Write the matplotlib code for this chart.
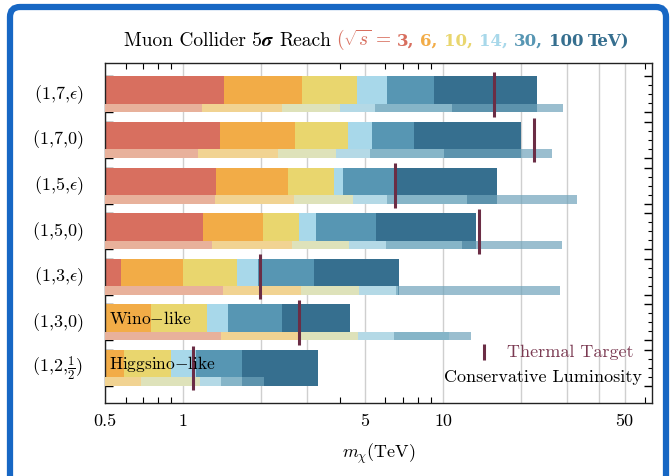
import matplotlib
matplotlib.use("Agg")
import matplotlib.pyplot as plt
import matplotlib.transforms as mtransforms
from matplotlib.patches import PathPatch
from matplotlib.path import Path
import numpy as np

plt.rcParams['font.family'] = 'serif'
plt.rcParams['font.serif'] = ['cmr10', 'DejaVu Serif']
plt.rcParams['mathtext.fontset'] = 'cm'
plt.rcParams['axes.formatter.use_mathtext'] = True

# rows, top to bottom
rows = [r'$(1{,}7{,}\epsilon)$', r'$(1{,}7{,}0)$', r'$(1{,}5{,}\epsilon)$', r'$(1{,}5{,}0)$',
        r'$(1{,}3{,}\epsilon)$', r'$(1{,}3{,}0)$', r'$(1{,}2{,}\frac{1}{2})$']
energies = [3, 6, 10, 14, 30, 100]

# 5 sigma reach in TeV, per row, per collider energy
reach = [
    [1.43, 2.86, 4.66, 6.11, 9.26, 22.9],
    [1.39, 2.70, 4.32, 5.32, 7.73, 19.95],
    [1.34, 2.52, 3.79, 4.11, 6.60, 16.1],
    [1.19, 2.02, 2.78, 3.25, 5.52, 13.4],
    [0.577, 1.00, 1.61, 1.94, 3.18, 6.77],
    [0.50, 0.75, 1.24, 1.49, 2.40, 4.39],
    [0.50, 0.59, 0.90, 1.12, 1.68, 3.31],
]
# conservative luminosity reach
reach_cons = [
    [1.18, 2.40, 4.02, 5.48, 10.8, 29.0],
    [1.135, 2.31, 3.88, 5.24, 10.1, 26.2],
    [1.33, 2.67, 4.52, 6.11, 12.4, 32.9],
    [1.29, 2.63, 4.36, 6.02, 11.8, 28.8],
    [1.42, 2.84, 4.75, 6.60, 6.70, 28.2],
    [1.40, 2.82, 4.72, 6.50, 10.5, 12.8],
    [0.50, 0.69, 1.16, 1.40, 1.68, 2.04],
]
thermal = [15.7, 22.3, 6.54, 13.8, 1.98, 2.78, 1.09]

main_colors = ['#D86F5F', '#F2AC47', '#E9D66E', '#A8D8EA', '#5796B3', '#366F8F']
cons_colors = ['#E8B19B', '#F1D392', '#DEE2BA', '#B4D9E6', '#86B5C8', '#6FA3BB']
thermal_color = '#6B2D45'

fig = plt.figure(figsize=(6.72, 4.76), dpi=100)
ax = fig.add_axes([105 / 672, 1 - 403 / 476, 547 / 672, 340 / 476])
ax.set_xscale('log')
xmin = 0.5

grp = 0.79      # full height of a row group
lite = 0.19     # height of the conservative strip
for i in range(len(rows)):
    for k in range(5, -1, -1):
        ax.barh(i, reach[i][k] - xmin, left=xmin, height=grp, color=main_colors[k],
                linewidth=0, zorder=2 + (5 - k) * 0.01)
    yc = i + grp / 2 - lite / 2
    for k in range(5, -1, -1):
        alpha = 0.7 if k == 5 else 1.0
        ax.barh(yc, reach_cons[i][k] - xmin, left=xmin, height=lite, color=cons_colors[k],
                alpha=alpha, linewidth=0, zorder=3 + (5 - k) * 0.01)
    ax.vlines(thermal[i], i - 0.49, i + 0.49, color=thermal_color, lw=2.2, zorder=5)

ax.text(0.52, 5 - 0.08, r'Wino$-$like', fontsize=12.5, va='center', ha='left', zorder=6)
ax.text(0.52, 6 - 0.08, r'Higgsino$-$like', fontsize=12.5, va='center', ha='left', zorder=6)

ax.set_xlim(xmin, 63.7)
ax.set_ylim(len(rows) - 1 + 0.768, -0.6875)

major = [0.5, 1, 2, 3, 5, 10, 20, 30, 40, 50]
ax.set_xticks(major)
ax.set_xticklabels(['0.5', '1', '', '', '5', '10', '', '', '', '50'], fontsize=13)
minor = [0.6, 0.7, 0.8, 0.9, 4, 6, 7, 8, 9, 60]
ax.set_xticks(minor, minor=True)
ax.set_xticklabels([], minor=True)
ax.grid(True, axis='x', which='major', color='#CFCFCF', lw=1.0, zorder=0)
ax.set_axisbelow(True)
ax.tick_params(axis='x', which='both', direction='in', top=True, bottom=True, pad=8)
ax.tick_params(axis='x', which='major', length=0)
ax.tick_params(axis='x', which='minor', length=4, width=0.8)

edges = []
inner = []
for i in range(len(rows)):
    edges += [i - grp / 2, i + grp / 2]
    inner += list(np.linspace(i - grp / 2, i + grp / 2, 5)[1:-1])
ax.set_yticks(edges)
ax.set_yticklabels([])
ax.set_yticks(inner, minor=True)
ax.tick_params(axis='y', which='both', direction='in', left=True, right=True)
ax.tick_params(axis='y', which='major', length=6, width=1.0)
ax.tick_params(axis='y', which='minor', length=3, width=0.8)

trans = mtransforms.blended_transform_factory(ax.transAxes, ax.transData)
for i, lab in enumerate(rows):
    ax.text(-0.04, i, lab, transform=trans, ha='right', va='center', fontsize=13)

for s in ax.spines.values():
    s.set_color('#222222')
    s.set_linewidth(1.0)

ax.set_xlabel(r'$m_\chi$(TeV)', fontsize=13, labelpad=9)

# legend-like annotations
ax.plot([0.693], [0.15], marker='|', ms=11, mew=2.2, color=thermal_color,
        transform=ax.transAxes, zorder=6)
ax.text(0.735, 0.15, 'Thermal Target', color='#7B3A52', fontsize=13,
        transform=ax.transAxes, va='center', ha='left')
ax.text(0.982, 0.0765, 'Conservative Luminosity', color='black', fontsize=13,
        transform=ax.transAxes, va='center', ha='right')

# multi-coloured title; bold numbers drawn with a bold serif face
bold = dict(family='DejaVu Serif', weight='bold', size=12)
plain = dict(size=14)
pieces = [
    (r'Muon Collider', 'black', plain, 5),
    (r'$\mathbf{5}\boldsymbol{\sigma}$', 'black', dict(size=14.5), 5),
    (r'Reach', 'black', plain, 5),
    (r'$(\sqrt{s}\,=$', main_colors[0], plain, 5),
    ('3,', main_colors[0], bold, 6),
    ('6,', main_colors[1], bold, 6),
    ('10,', main_colors[2], bold, 6),
    ('14,', main_colors[3], bold, 6),
    ('30,', main_colors[4], bold, 6),
    ('100', main_colors[5], bold, 5),
    ('TeV)', main_colors[5], bold, 0),
]
fig.canvas.draw()
renderer = fig.canvas.get_renderer()
texts = []
widths = []
for s, c, fd, g in pieces:
    t = fig.text(0, 0, s, color=c, va='baseline', ha='left', **fd)
    texts.append(t)
    widths.append(t.get_window_extent(renderer).width)
total = sum(widths) + sum(p[3] for p in pieces)
x0 = 377 - total / 2
for t, w, p in zip(texts, widths, pieces):
    t.set_position((x0 / 672, 1 - 46 / 476))
    x0 += w + p[3]

# outer blue frame: left, top and right edges only, rounded top corners
W, H = 672.0, 476.0
xl, xr, yt, r = 10.0, 666.0, 7.0, 10.0
pts = [(xl, H), (xl, yt + r), (xl, yt), (xl + r, yt), (xr - r, yt), (xr, yt), (xr, yt + r), (xr, H)]
codes = [Path.MOVETO, Path.LINETO, Path.CURVE3, Path.CURVE3, Path.LINETO,
         Path.CURVE3, Path.CURVE3, Path.LINETO]
verts = [(px / W, 1 - py / H) for px, py in pts]
frame = PathPatch(Path(verts, codes), transform=fig.transFigure, fill=False,
                  edgecolor='#1767C4', lw=4.5, clip_on=False)
fig.patches.append(frame)

fig.savefig('out.png', dpi=100)
